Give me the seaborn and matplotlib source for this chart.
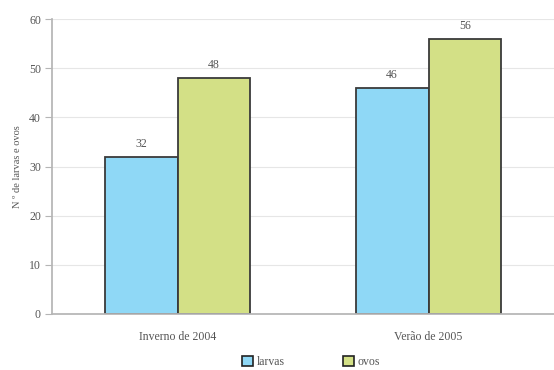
import matplotlib
matplotlib.use("Agg")
import matplotlib.pyplot as plt
import seaborn as sns
import pandas as pd
from matplotlib.patches import Patch

seasons = ["Inverno de 2004", "Verão de 2005"]
larvas = [32, 46]
ovos = [48, 56]
series_names = ["larvas", "ovos"]
palette = ["#8fd8f6", "#d3e086"]

df = pd.DataFrame({
    "season": seasons * 2,
    "value": larvas + ovos,
    "series": [series_names[0]] * 2 + [series_names[1]] * 2,
})

sns.set_theme(style="white")
plt.rcParams["font.family"] = ["Liberation Serif", "DejaVu Serif"]
text_color = "#555555"

fig = plt.figure(figsize=(5.54, 3.70), dpi=100)
ax = fig.add_axes([52 / 554, 1 - 314 / 370, 502 / 554, 295 / 370])

sns.barplot(data=df, x="season", y="value", hue="series", palette=palette,
            width=0.58, edgecolor="#3a3a3a", linewidth=1.3, ax=ax,
            legend=False, saturation=1)

for cont in ax.containers:
    ax.bar_label(cont, labels=[f"{int(v)}" for v in cont.datavalues],
                 padding=5, fontsize=8.5, color=text_color)

ax.set_xlim(-0.5, 1.5)
ax.set_ylim(0, 60)
ax.set_yticks(range(0, 61, 10))
ax.yaxis.grid(True, color="#e6e6e6", linewidth=0.8)
ax.set_axisbelow(True)
for s in ["top", "right"]:
    ax.spines[s].set_visible(False)
ax.spines["left"].set_color("#b5b5b5")
ax.spines["bottom"].set_color("#b5b5b5")
ax.tick_params(axis="y", which="major", left=True, length=5, width=0.8,
               color="#b5b5b5", labelsize=8.5, labelcolor=text_color, pad=3)
ax.tick_params(axis="x", bottom=False, labelsize=8.5, labelcolor=text_color, pad=6)
ax.set_xlabel("")
ax.set_ylabel("N º de larvas e ovos", fontsize=7.5, color=text_color, labelpad=5)

handles = [Patch(facecolor=c, edgecolor="#222222", linewidth=1.2, label=n)
           for c, n in zip(palette, series_names)]
fig.legend(handles=handles, loc="center", bbox_to_anchor=(311 / 554, 1 - 362 / 370),
           ncol=2, frameon=False, fontsize=8.5, handlelength=0.9, handleheight=0.9,
           handletextpad=0.3, columnspacing=5.0, labelcolor=text_color)

fig.savefig("out.png", dpi=100)
